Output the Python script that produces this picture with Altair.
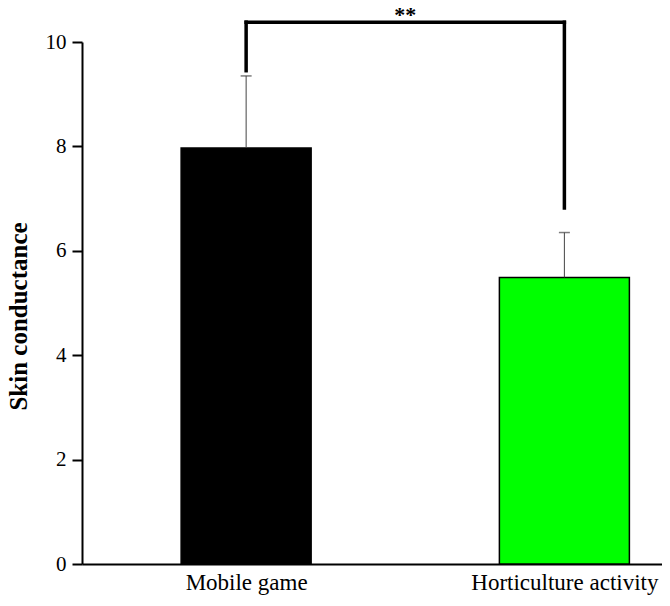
import altair as alt
import pandas as pd

# ---- data ----
groups = ["Mobile game", "Horticulture activity"]
positions = [0, 1]
means = [7.97, 5.49]
err_top = [9.35, 6.35]
bar_colors = ["#000000", "#00FF00"]
bracket_top = 10.38
bracket_leg_bottom = [9.45, 6.82]
sig_label = "**"

df = pd.DataFrame({"group": groups, "pos": positions, "mean": means,
                   "top": err_top, "leg": bracket_leg_bottom,
                   "btop": [bracket_top] * 2})
bracket_df = pd.DataFrame({"x1": [positions[0]], "x2": [positions[1]],
                           "y": [bracket_top],
                           "mid": [(positions[0] + positions[1]) / 2],
                           "label": [sig_label]})

FONT = "Liberation Serif"
label_expr = " : ".join(
    [f"datum.value == {p} ? '{g}'" for p, g in zip(positions, groups)]) + " : ''"

x_scale = alt.Scale(domain=[-0.5, 1.291], nice=False, zero=False)
y_scale = alt.Scale(domain=[0, 10], nice=False)

x_axis = alt.Axis(values=positions, labelExpr=label_expr, ticks=False,
                  grid=False, title=None, domainWidth=2, domainColor="black",
                  labelFont=FONT, labelFontSize=23, labelColor="black",
                  labelPadding=7, labelLimit=0, labelOverlap=False)
y_axis = alt.Axis(values=[0, 2, 4, 6, 8, 10], grid=False,
                  title="Skin conductance", titleFont=FONT, titleFontSize=25,
                  titleFontWeight="bold", titleColor="black", titlePadding=14,
                  titleY=274,
                  labelFont=FONT, labelFontSize=21, labelColor="black",
                  labelPadding=6, tickSize=10, tickWidth=2, tickColor="black",
                  domainWidth=2, domainColor="black")


def X(field):
    return alt.X(field, type="quantitative", scale=x_scale, axis=x_axis)


def Y(field):
    return alt.Y(field, type="quantitative", scale=y_scale, axis=y_axis)


base = alt.Chart(df)

bars = base.mark_bar(size=130, stroke="black", strokeWidth=1.5).encode(
    x=X("pos"), y=Y("mean"),
    color=alt.Color("group:N", scale=alt.Scale(domain=groups, range=bar_colors),
                    legend=None),
)

err_line = base.mark_rule(color="#444444", strokeWidth=1).encode(
    x=X("pos"), y=Y("mean"), y2="top:Q")
err_cap = base.mark_tick(orient="horizontal", size=11, thickness=1.5,
                         color="#444444").encode(x=X("pos"), y=Y("top"))

legs = base.mark_rule(color="black", strokeWidth=3.5, strokeCap="square").encode(
    x=X("pos"), y=Y("leg"), y2="btop:Q")
bracket = alt.Chart(bracket_df).mark_rule(
    color="black", strokeWidth=3.5, strokeCap="square").encode(
    x=X("x1"), x2="x2:Q", y=Y("y"))
star = alt.Chart(bracket_df).mark_text(
    font=FONT, fontSize=22, fontWeight="bold", baseline="alphabetic",
    color="black").encode(x=X("mid"), y=Y("y"), text="label:N")

chart = alt.layer(bars, err_line, err_cap, legs, bracket, star).properties(
    width=580, height=522,
    autosize=alt.AutoSizeParams(type="none"),
    padding={"left": 74, "top": 34, "right": 0, "bottom": 34},
).configure(
    background="white", font=FONT
).configure_view(strokeWidth=0, stroke="transparent"
).configure_axis(grid=False, labelFont=FONT, titleFont=FONT)

chart.save("out.html", embed_options={"renderer": "svg", "actions": False})
